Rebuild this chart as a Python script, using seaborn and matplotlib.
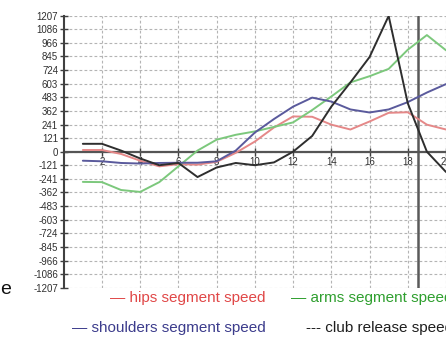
import matplotlib
matplotlib.use("Agg")
import matplotlib.pyplot as plt
import seaborn as sns
import pandas as pd

# ---- data ----
frames = list(range(1, 21))
hips = [15, 15, -20, -80, -130, -110, -115, -90, -10, 90, 215, 313, 310, 240, 197, 268, 345, 350, 240, 197]
arms = [-268, -270, -340, -357, -270, -130, 10, 107, 150, 180, 220, 260, 370, 490, 615, 670, 735, 905, 1035, 900]
shoulders = [-80, -85, -100, -105, -100, -98, -98, -85, 10, 170, 290, 400, 480, 445, 375, 348, 375, 440, 525, 600]
club = [70, 70, 10, -60, -120, -100, -225, -140, -100, -120, -95, 0, 140, 400, 615, 840, 1205, 430, 0, -180]

series_names = ["hips segment speed", "arms segment speed", "shoulders segment speed", "club release speed"]
legend_marks = ["\u2014", "\u2014", "\u2014", "---"]
line_colors = ["#e58888", "#7cc87c", "#5a5a9c", "#2e2e2e"]
text_colors = ["#e04848", "#2f9f2f", "#3c3c8c", "#1e1e1e"]

y_ticks = [-1207, -1086, -966, -845, -724, -603, -483, -362, -241, -121, 0,
           121, 241, 362, 483, 603, 724, 845, 966, 1086, 1207]
y_ticklabels = [str(v) for v in y_ticks]
x_ticks = [2, 4, 6, 8, 10, 12, 14, 16, 18, 20]
release_x = 18.55
axis_label_fragment = "e"

df = pd.concat([
    pd.DataFrame({"frame": frames, "speed": vals, "series": name})
    for name, vals in zip(series_names, [hips, arms, shoulders, club])
], ignore_index=True)

sns.set_theme(style="white")
plt.rcParams["font.family"] = ["Liberation Sans", "DejaVu Sans"]

fig = plt.figure(figsize=(4.46, 3.37), dpi=100)
ax = fig.add_axes([0.1429, 0.1463, 0.8571, 0.8071])

sns.lineplot(data=df, x="frame", y="speed", hue="series", hue_order=series_names,
             palette=dict(zip(series_names, line_colors)), linewidth=1.4,
             legend=False, ax=ax, zorder=3)

ax.set_xlim(0, 20)
ax.set_ylim(-1207, 1207)
ax.set_yticks(y_ticks)
ax.set_yticklabels(y_ticklabels)
ax.set_xticks(x_ticks)
ax.set_xticklabels([str(v) for v in x_ticks], rotation=90)
ax.set_xlabel("")
ax.set_ylabel("")

grid_kw = dict(color="#b4b4b4", linewidth=0.8, linestyle=(0, (2.5, 2)))
ax.grid(True, axis="both", **grid_kw)
ax.set_axisbelow(True)

for s in ["top", "right"]:
    ax.spines[s].set_visible(False)
ax.spines["left"].set_color("#404040")
ax.spines["left"].set_linewidth(1.5)
ax.spines["bottom"].set_position(("data", 0))
ax.spines["bottom"].set_color("#555555")
ax.spines["bottom"].set_linewidth(1.6)
ax.spines["bottom"].set_zorder(2)

ax.tick_params(axis="y", direction="inout", length=6, width=1, color="#404040",
               labelsize=7, labelcolor="#303030", pad=1, left=True)
ax.tick_params(axis="x", direction="inout", length=6, width=1, color="#404040",
               labelsize=7, labelcolor="#303030", pad=1, bottom=True)

ax.axvline(release_x, color="#5a5a5a", linewidth=1.8, zorder=2)

# legend rendered as coloured text rows
fs = 11
fig.text(266 / 446, 1 - 298 / 337, f"{legend_marks[0]} {series_names[0]}", color=text_colors[0],
         ha="right", va="center", fontsize=fs)
fig.text(291 / 446, 1 - 298 / 337, f"{legend_marks[1]} {series_names[1]}", color=text_colors[1],
         ha="left", va="center", fontsize=fs)
fig.text(266 / 446, 1 - 328 / 337, f"{legend_marks[2]} {series_names[2]}", color=text_colors[2],
         ha="right", va="center", fontsize=fs)
fig.text(306 / 446, 1 - 328 / 337, f"{legend_marks[3]} {series_names[3]}", color=text_colors[3],
         ha="left", va="center", fontsize=fs)

fig.text(0.0, 1 - 290 / 337, axis_label_fragment, color="#111111", ha="left", va="center", fontsize=14)

fig.savefig("out.png", dpi=100)
